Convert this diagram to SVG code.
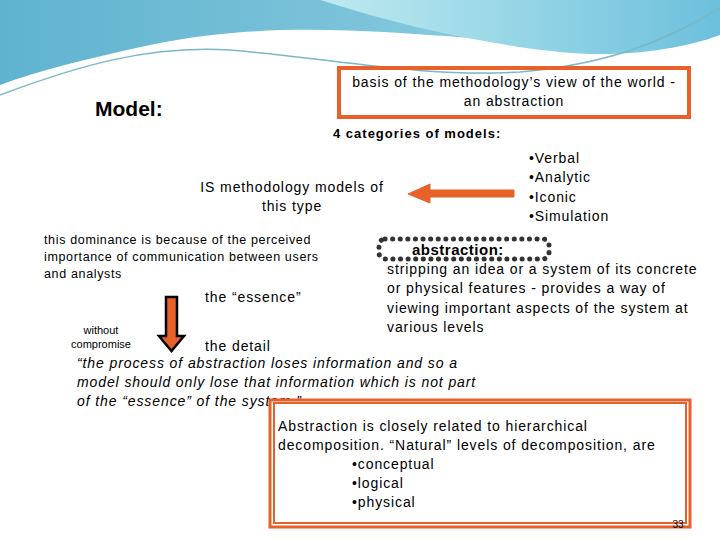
<svg xmlns="http://www.w3.org/2000/svg" width="720" height="540" viewBox="0 0 720 540">
<defs>
<linearGradient id="sky" x1="0" y1="0" x2="1" y2="0">
<stop offset="0" stop-color="#5fb3cf"/><stop offset="0.5" stop-color="#7cc3da"/><stop offset="1" stop-color="#9fdbe8"/>
</linearGradient>
<linearGradient id="sky2" x1="0" y1="0" x2="1" y2="0">
<stop offset="0" stop-color="#bfeaf0"/><stop offset="1" stop-color="#6cc0dc"/>
</linearGradient>
</defs>
<style>
text{font-family:"Liberation Sans",Arial,sans-serif;fill:#000}
.t{font-size:14px;letter-spacing:0.9px}
.s{font-size:12.5px;letter-spacing:0.65px}
.box{fill:none;stroke:#e8602a;stroke-width:4}
</style>
<rect width="720" height="540" fill="#fff"/>
<g id="background">
<path d="M0,0 H720 V25 C640,45 560,45 470,38 C360,30 260,22 150,45 C90,58 40,70 0,85 Z" fill="url(#sky)"/>
<path d="M320,0 H720 V35 C680,50 620,58 560,52 C470,42 400,25 320,0 Z" fill="url(#sky2)"/>
<path d="M0,95 C80,65 150,45 230,50 C330,58 420,78 520,72 C600,65 660,45 720,8" fill="none" stroke="#7ab8c6" stroke-width="1.5"/>
</g>
<g id="title"><text x="95" y="116" style="font-size:21px;font-weight:bold">Model:</text></g>
<g id="basis">
<rect x="339" y="68" width="350" height="49" class="box"/>
<text x="514" y="87" text-anchor="middle" class="t">basis of the methodology’s view of the world -</text>
<text x="514" y="106" text-anchor="middle" class="t">an abstraction</text>
</g>
<g id="cats"><text x="333" y="138" style="font-size:13px;font-weight:bold;letter-spacing:1px">4 categories of models:</text></g>
<g id="ismodels">
<text x="292" y="192" text-anchor="middle" class="t">IS methodology models of</text>
<text x="292" y="211" text-anchor="middle" class="t">this type</text>
</g>
<g id="types">
<text x="529" y="163" class="t">•Verbal</text>
<text x="529" y="182" class="t">•Analytic</text>
<text x="529" y="202" class="t">•Iconic</text>
<text x="529" y="221" class="t">•Simulation</text>
</g>
<g id="dominance">
<text x="44" y="244" class="s">this dominance is because of the perceived</text>
<text x="44" y="261" class="s">importance of communication between users</text>
<text x="44" y="278" class="s">and analysts</text>
</g>
<g id="abstraction">
<rect x="379" y="239" width="170" height="20" rx="6" fill="none" stroke="#333" stroke-width="5" stroke-dasharray="0.1 7.5" stroke-linecap="round"/>
<text x="412" y="255" style="font-size:15px;font-weight:bold;letter-spacing:0.5px">abstraction:</text>
<text x="387" y="274" class="t">stripping an idea or a system of its concrete</text>
<text x="387" y="293" class="t">or physical features - provides a way of</text>
<text x="387" y="313" class="t">viewing important aspects of the system at</text>
<text x="387" y="332" class="t">various levels</text>
</g>
<g id="essence">
<text x="205" y="302" class="t">the “essence”</text>
<text x="205" y="351" class="t">the detail</text>
<text x="101" y="334" text-anchor="middle" style="font-size:11px">without</text>
<text x="101" y="348" text-anchor="middle" style="font-size:11px">compromise</text>
</g>
<g id="quote" style="font-style:italic">
<text x="77" y="368" class="t">“the process of abstraction loses information and so a</text>
<text x="77" y="387" class="t">model should only lose that information which is not part</text>
<text x="77" y="406" class="t">of the “essence” of the system.”</text>
</g>
<g id="hier">
<rect x="270" y="400" width="420" height="127" fill="#fff" stroke="#e8602a" stroke-width="3"/>
<rect x="274" y="403" width="412" height="120" fill="none" stroke="#e8602a" stroke-width="2"/>
<text x="278" y="431" class="t">Abstraction is closely related to hierarchical</text>
<text x="278" y="450" class="t">decomposition.  “Natural” levels of decomposition, are</text>
<text x="352" y="469" class="t">•conceptual</text>
<text x="352" y="488" class="t">•logical</text>
<text x="352" y="507" class="t">•physical</text>
<text x="678" y="528" text-anchor="middle" style="font-size:10px">33</text>
</g>
<g id="connectors">
<path d="M514,190 H430 V184 L408,194 L430,203 V197 H514 Z" fill="#e8602a" stroke="#e8602a" stroke-width="1"/>
<path d="M166,297 H177 V336 H184 L171.5,351 L159,336 H166 Z" fill="#e8602a" stroke="#000" stroke-width="2.5"/>
</g>
</svg>
